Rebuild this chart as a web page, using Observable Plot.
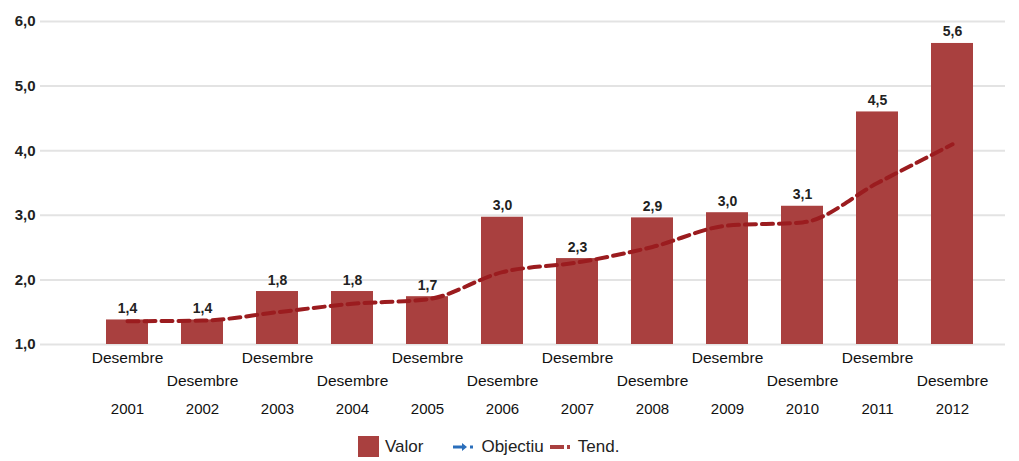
<!DOCTYPE html>
<html>
<head>
<meta charset="utf-8">
<script src="https://cdn.jsdelivr.net/npm/d3@7"></script>
<script src="https://cdn.jsdelivr.net/npm/@observablehq/plot@0.6"></script>
<style>
  html, body { margin: 0; padding: 0; background: #fff; }
  body { width: 1019px; height: 461px; overflow: hidden; font-family: "Liberation Sans", Arial, sans-serif; }
  #legend { height: 29px; display: flex; align-items: center; padding-left: 358px; font-size: 17px; color: #222; }
  #legend .item { display: flex; align-items: center; margin-right: 12px; }
  #legend svg { margin-right: 6px; }
</style>
</head>
<body>
<div id="chart"></div>
<div id="legend"></div>
<script>
const years = ["2001","2002","2003","2004","2005","2006","2007","2008","2009","2010","2011","2012"];
const months = ["Desembre","Desembre","Desembre","Desembre","Desembre","Desembre","Desembre","Desembre","Desembre","Desembre","Desembre","Desembre"];
const valors = [1.38, 1.38, 1.82, 1.82, 1.74, 2.97, 2.33, 2.96, 3.04, 3.14, 4.60, 5.66];
const valorLabels = ["1,4","1,4","1,8","1,8","1,7","3,0","2,3","2,9","3,0","3,1","4,5","5,6"];
const tendencia = [1.36, 1.37, 1.50, 1.63, 1.70, 2.12, 2.27, 2.51, 2.84, 2.89, 3.50, 4.10];
const yTicks = [1, 2, 3, 4, 5, 6];
const seriesNames = ["Valor", "Objectiu", "Tend."];

const barColor = "#a9403f";
const trendColor = "#9b1c1f";
const objColor = "#2a6ebb";

const rows = years.map((y, i) => ({year: y, month: months[i], v: valors[i], label: valorLabels[i], t: tendencia[i], i}));
const upperRow = rows.filter(d => d.i % 2 === 0);
const lowerRow = rows.filter(d => d.i % 2 === 1);

const chart = Plot.plot({
  width: 1019,
  height: 432,
  marginTop: 21,
  marginBottom: 88,
  marginLeft: 40,
  marginRight: 14,
  style: {fontFamily: "Liberation Sans, Arial, sans-serif", background: "#fff"},
  x: {type: "band", domain: years, paddingInner: 0.44, paddingOuter: 0.22, insetLeft: 47, insetRight: 14, axis: null},
  y: {domain: [1, 6], ticks: yTicks, axis: null},
  marks: [
    Plot.ruleY(yTicks, {y: d => d, stroke: "#e3e3e3", strokeWidth: 2}),
    Plot.axisY({ticks: yTicks, tickSize: 0, tickPadding: 5, fontSize: 15, fontWeight: "bold", fill: "#222",
      tickFormat: d => d.toFixed(1).replace(".", ",")}),
    Plot.barY(rows, {x: "year", y1: 1, y2: "v", fill: barColor}),
    Plot.line(rows, {x: "year", y: "t", stroke: trendColor, strokeWidth: 4, strokeDasharray: "11,6", curve: "monotone-x"}),
    Plot.text(rows, {x: "year", y: "v", text: "label", dy: -7, lineAnchor: "bottom", fontSize: 14, fontWeight: "bold", fill: "#222"}),
    Plot.text(upperRow, {x: "year", y: 1, text: "month", dy: 14, fontSize: 15.5, fill: "#111"}),
    Plot.text(lowerRow, {x: "year", y: 1, text: "month", dy: 37, fontSize: 15.5, fill: "#111"}),
    Plot.text(rows, {x: "year", y: 1, text: "year", dy: 65, fontSize: 15, fill: "#111"})
  ]
});
document.getElementById("chart").appendChild(chart);

const legend = document.getElementById("legend");
const markers = [
  `<svg width="21" height="21"><rect x="0" y="0" width="21" height="21" fill="${barColor}"/></svg>`,
  `<svg width="22" height="12"><line x1="0" y1="6" x2="10" y2="6" stroke="${objColor}" stroke-width="3"/><path d="M9,2 L14,6 L9,10 Z" fill="${objColor}"/><rect x="17" y="4.5" width="3" height="3" fill="${objColor}"/></svg>`,
  `<svg width="22" height="12"><line x1="0" y1="6" x2="14" y2="6" stroke="${barColor}" stroke-width="4"/><rect x="17" y="4" width="3" height="4" fill="${barColor}"/></svg>`
];
seriesNames.forEach((name, k) => {
  const div = document.createElement("div");
  div.className = "item";
  if (k === 1) div.style.marginLeft = "18px";
  if (k === 2) div.style.marginLeft = "-6px";
  div.innerHTML = markers[k] + `<span>${name}</span>`;
  legend.appendChild(div);
});
</script>
</body>
</html>
